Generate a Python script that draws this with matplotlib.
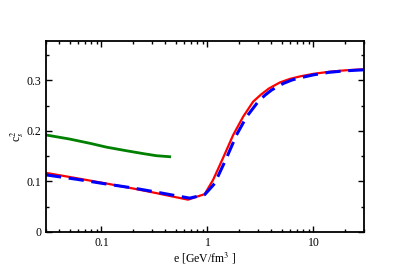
import matplotlib

matplotlib.use("Agg")
import matplotlib.pyplot as plt
from matplotlib.ticker import LogLocator, MultipleLocator, NullFormatter

# energy density (GeV/fm^3) and squared sound speed
e_hadron = [0.03, 0.05, 0.08, 0.111, 0.17, 0.25, 0.33, 0.44]
cs2_hadron = [0.192, 0.184, 0.175, 0.168, 0.161, 0.155, 0.151, 0.149]

e_red = [0.03, 0.06, 0.111, 0.2, 0.329, 0.5, 0.656, 0.943, 1.13, 1.40, 1.75, 2.17,
         2.70, 3.2, 3.8, 4.83, 6.0, 7.5, 10.0, 14.0, 20.0, 30.0]
cs2_red = [0.117, 0.106, 0.096, 0.086, 0.077, 0.069, 0.064, 0.075, 0.103, 0.146,
           0.192, 0.228, 0.258, 0.272, 0.284, 0.296, 0.303, 0.308, 0.313, 0.317,
           0.320, 0.322]

e_blue = [0.03, 0.06, 0.111, 0.2, 0.329, 0.5, 0.68, 0.943, 1.17, 1.51, 1.88, 2.34,
          3.01, 3.5, 4.03, 5.2, 6.3, 7.8, 10.0, 14.0, 20.0, 30.0]
cs2_blue = [0.113, 0.104, 0.095, 0.087, 0.079, 0.072, 0.067, 0.074, 0.096, 0.146,
            0.192, 0.228, 0.258, 0.271, 0.281, 0.294, 0.301, 0.306, 0.311, 0.316,
            0.319, 0.321]

plt.rcParams["font.family"] = ["Liberation Serif", "DejaVu Serif"]
plt.rcParams["mathtext.fontset"] = "stix"

fig = plt.figure(figsize=(4.09, 2.73), dpi=100)
ax = fig.add_axes([46 / 409, 1 - 232 / 273, 318 / 409, 191 / 273])

ax.plot(e_hadron, cs2_hadron, color="#008000", lw=2.0)
ax.plot(e_red, cs2_red, color="red", lw=1.6)
ax.plot(e_blue, cs2_blue, color="blue", lw=2.2, dashes=(5, 2.5))

ax.set_xscale("log")
ax.set_xlim(0.03, 30)
ax.set_ylim(0, 0.378)
ax.yaxis.set_major_locator(MultipleLocator(0.1))
ax.yaxis.set_minor_locator(MultipleLocator(0.05))
ax.xaxis.set_major_locator(LogLocator(base=10))
ax.xaxis.set_minor_locator(LogLocator(base=10, subs=range(2, 10)))
ax.xaxis.set_minor_formatter(NullFormatter())
ax.set_xticks([0.1, 1, 10])
ax.set_xticklabels(["0.1", "1", "10"])
ax.set_yticks([0, 0.1, 0.2, 0.3])
ax.set_yticklabels(["0", "0.1", "0.2", "0.3"])

ax.tick_params(which="both", direction="in", top=True, right=True, labelsize=8.5)
ax.tick_params(which="major", length=4, width=1)
ax.tick_params(which="minor", length=2, width=1)
for s in ax.spines.values():
    s.set_linewidth(1.3)

ax.set_xlabel("e [GeV/fm$^3$ ]", fontsize=8.5, labelpad=1)
ax.set_ylabel("c$_s^2$", fontsize=8.5, labelpad=0)

fig.savefig("out.png", dpi=100)
